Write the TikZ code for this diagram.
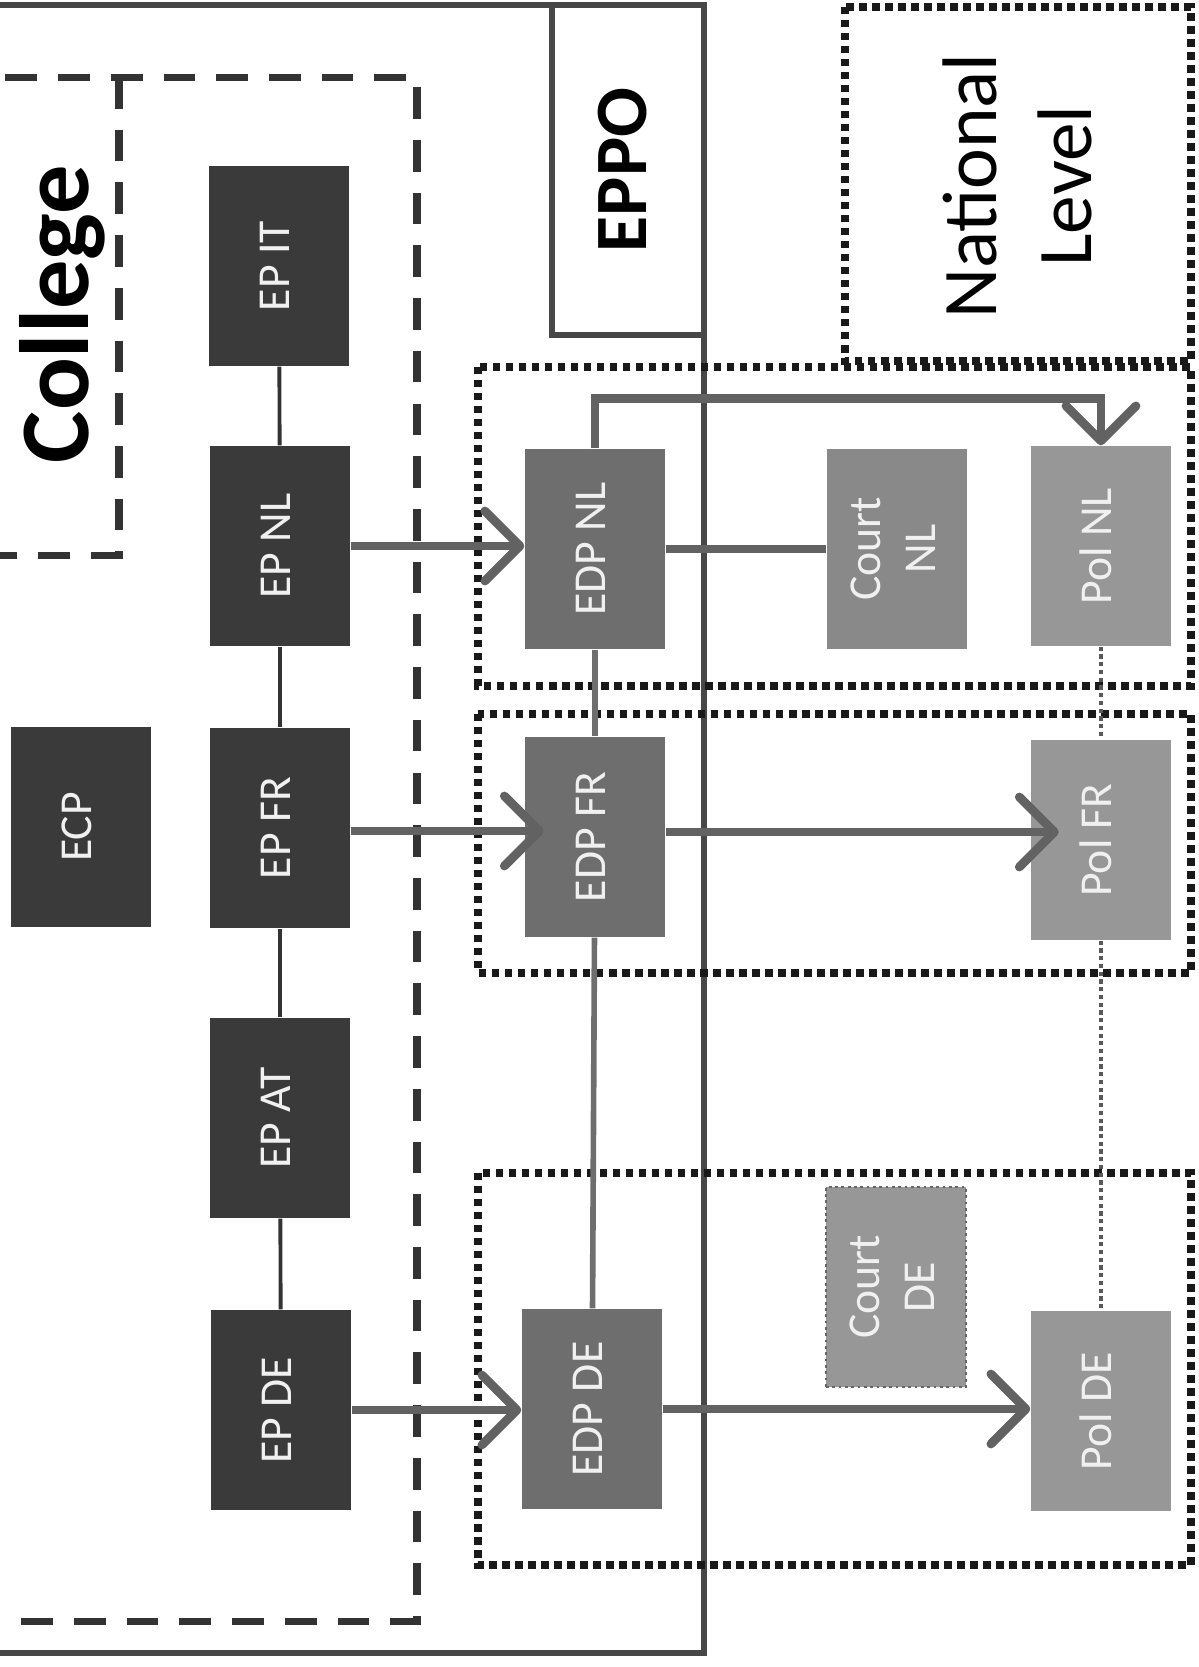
\documentclass[tikz,border=0pt]{standalone}
\usepackage{fontspec}
\setmainfont{Carlito}
\usepackage{graphicx}
\usetikzlibrary{arrows.meta}
\definecolor{epgray}{HTML}{3A3A3A}
\definecolor{edpgray}{HTML}{6E6E6E}
\definecolor{courtgray}{HTML}{898989}
\definecolor{polgray}{HTML}{979797}
\definecolor{flowgray}{HTML}{626262}
\definecolor{boxtext}{HTML}{F0F0F0}
\newcommand{\vtext}[1]{\rotatebox{90}{\begin{tabular}{@{}c@{}}#1\end{tabular}}}

\begin{document}
\begin{tikzpicture}[font=\fontsize{13}{15.6}\selectfont,
  b/.style={minimum width=1.40cm, minimum height=2.00cm, inner sep=0pt, text=boxtext},
  ep/.style={b, fill=epgray},
  edp/.style={b, fill=edpgray},
  court/.style={b, fill=courtgray},
  pol/.style={b, fill=polgray},
  grp/.style={draw=black!90, line width=2.2pt, dash pattern=on 2.1pt off 1.6pt},
  coll/.style={draw=black!80, line width=2pt, dash pattern=on 9pt off 6pt},
  frame/.style={draw=black!72, line width=1.8pt},
  link/.style={draw=black!80, line width=1.1pt},
  elink/.style={draw=edpgray, line width=1.6pt},
  flow/.style={draw=flowgray, line width=2.5pt, -{Straight Barb[length=3.5mm, width=7mm, round]}},
  pdot/.style={draw=black!65, line width=1.3pt, dash pattern=on 1.2pt off 1pt}]
  \useasboundingbox (0,0) rectangle (11.99,-16.67);
  \clip (0,0) rectangle (11.99,-16.67);

  % groups
  \draw[frame] (-1,-0.05) -- (7.04,-0.05) -- (7.04,-16.53) -- (-1,-16.53);
  \draw[frame] (5.52,-0.05) -- (5.52,-3.35) -- (7.04,-3.35);
  \draw[coll] (-1,-0.77) -- (4.17,-0.77) -- (4.17,-16.21) -- (-1,-16.21);
  \draw[coll] (1.19,-0.77) -- (1.19,-5.55) -- (-1,-5.55);
  \draw[grp] (8.45,-0.07) rectangle (11.91,-3.61);
  \draw[grp] (4.78,-3.67) rectangle (11.91,-6.86);
  \draw[grp] (4.78,-7.14) rectangle (11.91,-9.73);
  \draw[grp] (4.78,-11.73) rectangle (11.91,-15.65);

  \node (college) at (0.66,-3.14) {\fontsize{28}{32}\selectfont\bfseries\vtext{College}};
  \node (eppo) at (6.29,-1.70) {\fontsize{21}{25}\selectfont\bfseries\vtext{EPPO}};
  \node (natl) at (10.25,-1.86) {\fontsize{22}{27}\selectfont\vtext{National\\Level}};

  % nodes
  \node[ep] (ecp)  at (0.81,-8.27)  {\vtext{ECP}};
  \node[ep] (epit) at (2.79,-2.66)  {\vtext{EP IT}};
  \node[ep] (epnl) at (2.80,-5.46)  {\vtext{EP NL}};
  \node[ep] (epfr) at (2.80,-8.28)  {\vtext{EP FR}};
  \node[ep] (epat) at (2.80,-11.18) {\vtext{EP AT}};
  \node[ep] (epde) at (2.81,-14.10) {\vtext{EP DE}};
  \node[edp] (edpnl) at (5.95,-5.49)  {\vtext{EDP NL}};
  \node[edp] (edpfr) at (5.95,-8.37)  {\vtext{EDP FR}};
  \node[edp] (edpde) at (5.92,-14.09) {\vtext{EDP DE}};
  \node[court] (crtnl) at (8.97,-5.49) {\vtext{Court\\NL}};
  \node[court, fill=polgray, draw=black!60, densely dotted, line width=0.8pt] (crtde) at (8.96,-12.87) {\vtext{Court\\DE}};
  \node[pol] (polnl) at (11.01,-5.46)  {\vtext{Pol NL}};
  \node[pol] (polfr) at (11.01,-8.40)  {\vtext{Pol FR}};
  \node[pol] (polde) at (11.01,-14.11) {\vtext{Pol DE}};

  % links
  \draw[link] (epit) -- (epnl);
  \draw[link] (epnl) -- (epfr);
  \draw[link] (epfr) -- (epat);
  \draw[link] (epat) -- (epde);
  \draw[elink] (edpnl) -- (edpfr);
  \draw[elink] (edpfr) -- (edpde);
  \draw[pdot] (polnl) -- (polfr);
  \draw[pdot] (polfr) -- (polde);
  \draw[flow] (epnl.east) -- (epnl.east -| edpnl.west);
  \draw[flow] (epfr.east) ++(0,-0.03) -- ++(1.93,0) coordinate (fr1);
  \draw[flow] (epde.east) -- (epde.east -| edpde.west);
  \draw[flow, -] (edpnl.east) -- (edpnl.east -| crtnl.west);
  \draw[flow] (edpnl.north) -- ++(0,0.50) -| (polnl.north);
  \draw[flow] (edpfr.east) ++(0,0.05) -- ++(3.93,0) coordinate (fr2);
  \draw[flow] (edpde.east) -- (edpde.east -| polde.west);
\end{tikzpicture}
\end{document}
